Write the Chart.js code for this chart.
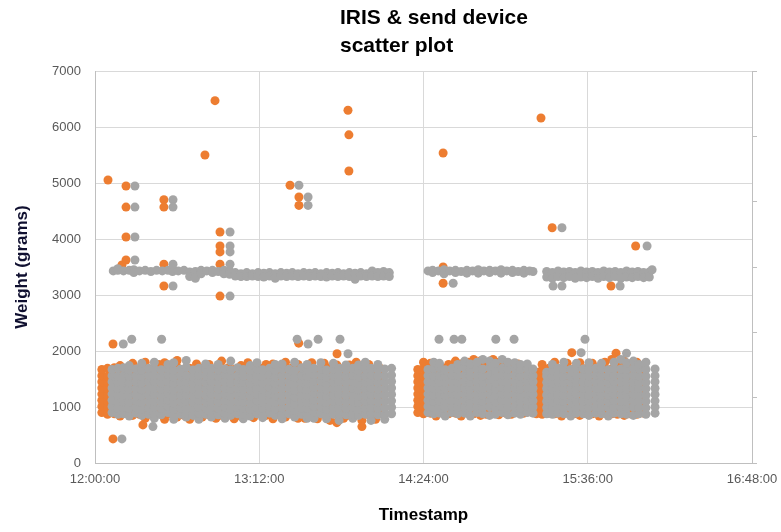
<!DOCTYPE html>
<html>
<head>
<meta charset="utf-8">
<script src="https://cdn.jsdelivr.net/npm/chart.js@4/dist/chart.umd.min.js"></script>
<style>
  html, body { margin: 0; padding: 0; background: #fff; }
  #wrap { width: 781px; height: 532px; }
</style>
</head>
<body>
<div id="wrap"><canvas id="chart" width="781" height="532"></canvas></div>
<script>
// x values are minutes after 12:00:00
var xTickLabels = ['12:00:00', '13:12:00', '14:24:00', '15:36:00', '16:48:00'];
var titleLines = ['IRIS & send device', 'scatter plot'];

// single IRIS readings (orange)
var irisTimes = [5.7, 13.6, 13.6, 13.6, 13.6, 11.8, 30.2, 30.2, 30.2, 30.2, 48.2, 52.6, 54.8, 54.8, 54.8, 54.8, 54.8,
  85.5, 89.4, 89.4, 110.9, 111.3, 111.3, 152.6, 195.5, 200.4, 237, 226.2, 152.6, 152.6, 7.9, 7.9, 89.3, 106.1,
  209, 228.4, 21, 117, 106];
var irisWeights = [5054, 4946, 4570, 4036, 3625, 3536, 4700, 4570, 3550, 3160, 5500, 6470, 4125, 3875, 3770, 3550, 2980,
  4960, 4750, 4600, 6300, 5860, 5215, 5535, 6160, 4200, 3875, 3160, 3500, 3210, 2125, 430, 2140, 1950,
  1970, 1960, 680, 650, 720];

// single send device readings (grey)
var sendTimes = [17.5, 17.5, 17.5, 17.5, 34.2, 34.2, 34.2, 34.2, 59.2, 59.2, 59.2, 59.2, 59.2, 89.4, 93.4, 93.4,
  204.7, 242, 244.2, 230.2, 200.8, 204.7, 157, 12.4, 16.1, 29.2, 88.6, 93.4, 97.8, 107.4, 110.9,
  150.8, 157.4, 160.8, 175.7, 183.7, 214.8, 213.1, 233, 11.8, 25.4];
var sendWeights = [4946, 4570, 4036, 3625, 4700, 4570, 3550, 3160, 4125, 3875, 3770, 3550, 2980, 4960, 4750, 4600,
  4200, 3875, 3450, 3160, 3160, 3160, 3210, 2125, 2210, 2210, 2210, 2125, 2210, 2210, 1950,
  2210, 2210, 2210, 2210, 2210, 2210, 1970, 1960, 430, 650];

// columns of readings in the main cluster: [iris minute, send minute, weights...]
var lowBand1 = [
  [3, 7.5, 900, 1010, 1120, 1230, 1340, 1450, 1560, 1670],
  [5.5, 10, 870, 980, 1100, 1210, 1330, 1440, 1550, 1690],
  [8.5, 12.5, 880, 990, 1095, 1215, 1325, 1445, 1565, 1700],
  [11, 15, 840, 975, 1090, 1205, 1320, 1435, 1550, 1665, 1740],
  [14, 18, 890, 1000, 1110, 1220, 1335, 1450, 1560, 1680],
  [16.5, 20.5, 850, 960, 1080, 1200, 1310, 1430, 1545, 1660, 1780],
  [19.5, 23.5, 870, 985, 1100, 1215, 1330, 1450, 1570, 1690],
  [22, 26, 800, 880, 995, 1105, 1225, 1340, 1455, 1570, 1680, 1800],
  [25, 29, 860, 975, 1090, 1200, 1315, 1430, 1545, 1665],
  [28, 32, 900, 1010, 1125, 1235, 1345, 1460, 1575, 1690, 1760],
  [30.5, 34.5, 780, 840, 960, 1075, 1195, 1310, 1425, 1540, 1655, 1790],
  [33.5, 37.5, 870, 985, 1100, 1215, 1330, 1445, 1560, 1675],
  [36, 40, 820, 880, 990, 1105, 1220, 1335, 1450, 1565, 1710, 1830],
  [39, 43, 850, 965, 1080, 1195, 1310, 1425, 1540, 1660],
  [41.5, 45.5, 780, 890, 1000, 1115, 1230, 1345, 1460, 1575, 1690],
  [44.5, 48.5, 870, 980, 1095, 1210, 1325, 1440, 1555, 1670, 1770],
  [47, 51, 820, 880, 995, 1110, 1225, 1340, 1455, 1570, 1690],
  [50, 54, 860, 975, 1090, 1205, 1320, 1435, 1550, 1665, 1760],
  [53, 57, 800, 890, 1000, 1115, 1230, 1345, 1460, 1575, 1680],
  [55.5, 59.5, 850, 965, 1080, 1200, 1315, 1430, 1545, 1660, 1820],
  [58.5, 62.5, 880, 990, 1100, 1220, 1330, 1445, 1560, 1700],
  [61, 65, 790, 870, 980, 1095, 1210, 1325, 1440, 1555, 1670],
  [64, 68, 840, 955, 1070, 1190, 1305, 1420, 1535, 1650, 1740],
  [67, 71, 880, 995, 1110, 1225, 1340, 1455, 1570, 1685, 1790],
  [69.5, 73.5, 810, 860, 975, 1090, 1205, 1320, 1435, 1550, 1665],
  [72.5, 76.5, 890, 1005, 1120, 1235, 1350, 1465, 1580, 1690],
  [75, 79, 850, 965, 1080, 1195, 1310, 1425, 1540, 1655, 1760],
  [78, 82, 790, 870, 985, 1100, 1215, 1330, 1445, 1560, 1680, 1770],
  [81, 85, 880, 990, 1105, 1220, 1335, 1450, 1565, 1675],
  [83.5, 87.5, 820, 940, 1060, 1180, 1300, 1420, 1535, 1650, 1800],
  [86.5, 90.5, 870, 985, 1100, 1215, 1330, 1445, 1560, 1700],
  [89, 93, 800, 860, 975, 1090, 1205, 1320, 1435, 1550, 1665, 1760],
  [92, 96, 800, 900, 1010, 1125, 1240, 1355, 1470, 1585, 1690],
  [95, 99, 880, 995, 1110, 1225, 1340, 1455, 1570, 1680, 1790],
  [97.5, 101.5, 790, 850, 965, 1080, 1195, 1310, 1425, 1540, 1660],
  [100.5, 104.5, 870, 985, 1100, 1215, 1330, 1445, 1560, 1675, 1780],
  [103, 107, 760, 880, 995, 1110, 1225, 1340, 1455, 1570, 1690],
  [106, 110, 860, 975, 1090, 1205, 1320, 1435, 1550, 1665, 1750],
  [109, 113, 800, 880, 995, 1110, 1225, 1340, 1455, 1570, 1690],
  [111.5, 115.5, 850, 965, 1080, 1195, 1310, 1425, 1540, 1655, 1750],
  [114.5, 118.5, 870, 985, 1100, 1215, 1330, 1445, 1560, 1680, 1800],
  [117, 121, 760, 880, 995, 1110, 1225, 1340, 1455, 1570, 1690],
  [120, 124, 860, 975, 1090, 1205, 1320, 1435, 1550, 1665, 1760],
  [123, 127, 780, 870, 985, 1100, 1215, 1330, 1445, 1560, 1680],
  [125, 130, 880, 995, 1110, 1225, 1340, 1455, 1570, 1690]
];
var lowBand2 = [
  [141.5, 146, 900, 1010, 1120, 1230, 1340, 1450, 1560, 1670],
  [144, 148.5, 880, 990, 1105, 1215, 1330, 1440, 1555, 1690, 1800],
  [147, 151, 890, 1000, 1110, 1225, 1335, 1450, 1565, 1700, 1780],
  [149.5, 153.5, 840, 985, 1095, 1210, 1325, 1440, 1550, 1665],
  [152.5, 156.5, 900, 1010, 1120, 1235, 1345, 1460, 1570, 1690],
  [155, 159, 880, 995, 1105, 1220, 1330, 1445, 1560, 1680, 1760],
  [158, 162, 890, 1000, 1115, 1225, 1340, 1450, 1565, 1700, 1820],
  [160.5, 164.5, 840, 985, 1100, 1210, 1325, 1440, 1555, 1670, 1770],
  [163.5, 167.5, 900, 1010, 1120, 1230, 1345, 1455, 1570, 1690, 1800],
  [166, 170, 880, 990, 1105, 1215, 1330, 1440, 1555, 1680, 1850],
  [169, 173, 850, 1005, 1115, 1230, 1340, 1455, 1570, 1700, 1820],
  [171.5, 175.5, 870, 985, 1095, 1210, 1320, 1435, 1550, 1665, 1780],
  [174.5, 178.5, 900, 1010, 1125, 1235, 1350, 1460, 1575, 1690, 1850],
  [177, 181, 860, 995, 1105, 1220, 1330, 1445, 1560, 1680, 1800],
  [180, 184, 890, 1000, 1115, 1225, 1340, 1450, 1565, 1690, 1790],
  [182.5, 186.5, 870, 985, 1100, 1210, 1325, 1440, 1555, 1670, 1760],
  [185.5, 189.5, 900, 1010, 1120, 1235, 1345, 1460, 1570, 1690, 1770],
  [188, 192, 890, 1000, 1110, 1225, 1335, 1450, 1560, 1680]
];
var lowBand3 = [
  [193.5, 198, 880, 990, 1100, 1215, 1330, 1440, 1555, 1620],
  [196, 200.5, 870, 985, 1095, 1210, 1320, 1435, 1550, 1660, 1760],
  [199, 203, 890, 1000, 1115, 1225, 1340, 1450, 1565, 1690],
  [201.5, 205.5, 880, 990, 1105, 1215, 1330, 1440, 1555, 1680, 1800],
  [204.5, 208.5, 840, 985, 1100, 1210, 1325, 1440, 1550, 1670],
  [207, 211, 890, 1000, 1110, 1225, 1335, 1450, 1560, 1690, 1780],
  [210, 214, 880, 995, 1105, 1220, 1330, 1445, 1560, 1680],
  [212.5, 216.5, 850, 985, 1100, 1210, 1325, 1440, 1555, 1670, 1790],
  [215.5, 219.5, 890, 1000, 1115, 1225, 1340, 1450, 1565, 1690],
  [218, 222, 880, 990, 1105, 1215, 1330, 1440, 1555, 1680, 1780],
  [221, 225, 840, 985, 1095, 1210, 1320, 1435, 1550, 1665],
  [223.5, 227.5, 890, 1000, 1110, 1225, 1335, 1450, 1560, 1690, 1800],
  [226.5, 230.5, 880, 995, 1105, 1220, 1330, 1445, 1560, 1680, 1850],
  [229, 233, 870, 985, 1100, 1210, 1325, 1440, 1555, 1670, 1790],
  [232, 236, 850, 1000, 1115, 1225, 1340, 1450, 1565, 1690, 1820],
  [234.5, 238.5, 880, 990, 1105, 1215, 1330, 1440, 1555, 1680, 1760],
  [237.5, 241.5, 870, 985, 1100, 1210, 1325, 1440, 1550, 1670, 1800],
  [240.5, 245.5, 890, 1000, 1110, 1225, 1335, 1450, 1560, 1680]
];
// send device readings around 3400 g: [send minute, weights...]
var sendHighBand = [
  [8, 3430], [10, 3440, 3470], [12.5, 3430], [15, 3440], [17, 3450, 3400],
  [19.5, 3430], [22, 3440], [24.5, 3420], [27, 3440], [29.5, 3430],
  [32, 3440], [34, 3420, 3460], [36.5, 3430], [39, 3440], [41.5, 3410, 3330],
  [44, 3420, 3300], [46.5, 3440, 3380], [49, 3430], [51.5, 3440, 3400], [54, 3420],
  [56.5, 3440, 3380], [59, 3430, 3370], [61.5, 3400, 3340], [64, 3380, 3330],
  [66.5, 3400, 3330], [69, 3380, 3340], [71.5, 3400, 3330], [74, 3390, 3320],
  [76.5, 3400, 3340], [79, 3380, 3300], [81.5, 3400, 3340], [84, 3390, 3330],
  [86.5, 3400, 3340], [89, 3380, 3330], [91.5, 3400, 3340], [94, 3390, 3330],
  [96.5, 3400, 3340], [99, 3380, 3330], [101.5, 3400, 3320], [104, 3390, 3340],
  [106.5, 3400, 3330], [109, 3380, 3340], [111.5, 3400, 3330], [114, 3390, 3280],
  [116.5, 3400, 3340], [119, 3380, 3330], [121.5, 3430, 3340], [124, 3400, 3330],
  [126.5, 3420, 3340], [129, 3400, 3330],
  [146, 3430], [148, 3440, 3400], [150.5, 3430], [153, 3450, 3380], [155.5, 3430],
  [158, 3440, 3400], [160.5, 3420], [163, 3440, 3390], [165.5, 3430], [168, 3450, 3390],
  [170.5, 3430], [173, 3440, 3400], [175.5, 3430], [178, 3450, 3390], [180.5, 3430],
  [183, 3440, 3400], [185.5, 3420], [188, 3440, 3390], [190.5, 3430], [192, 3420],
  [198, 3420, 3320], [200.5, 3400, 3300], [203, 3430, 3330], [205.5, 3410, 3310],
  [208, 3420, 3330], [210.5, 3400, 3300], [213, 3430, 3320], [215.5, 3410, 3310],
  [218, 3420, 3330], [220.5, 3400, 3300], [223, 3430, 3330], [225.5, 3410, 3310],
  [228, 3420, 3330], [230.5, 3400, 3300], [233, 3430, 3320], [235.5, 3410, 3310],
  [238, 3420, 3330], [240.5, 3400, 3310], [243, 3410, 3320]
];

var irisPoints = [];
var sendPoints = [];

function addColumns(cols) {
  cols.forEach(function (c) {
    for (var k = 2; k < c.length; k++) {
      irisPoints.push({ x: c[0], y: c[k] });
      sendPoints.push({ x: c[1], y: c[k] });
    }
  });
}

addColumns(lowBand1);
addColumns(lowBand2);
addColumns(lowBand3);
sendHighBand.forEach(function (c) {
  for (var k = 1; k < c.length; k++) sendPoints.push({ x: c[0], y: c[k] });
});
irisTimes.forEach(function (t, i) { irisPoints.push({ x: t, y: irisWeights[i] }); });
sendTimes.forEach(function (t, i) { sendPoints.push({ x: t, y: sendWeights[i] }); });

var titlePlugin = {
  id: 'leftTitle',
  afterDraw: function (chart) {
    var ctx = chart.ctx;
    ctx.save();
    ctx.font = 'bold 21px "Liberation Sans", Arial, sans-serif';
    ctx.fillStyle = '#000';
    ctx.textAlign = 'left';
    ctx.textBaseline = 'middle';
    titleLines.forEach(function (line, i) {
      ctx.fillText(line, 340, 18 + i * 28);
    });
    ctx.restore();
  }
};

Chart.defaults.font.family = '"Liberation Sans", Arial, sans-serif';

new Chart(document.getElementById('chart'), {
  type: 'scatter',
  data: {
    datasets: [
      {
        label: 'send device',
        data: sendPoints,
        backgroundColor: '#a5a5a5',
        pointRadius: 4.5,
        pointBorderWidth: 0
      },
      {
        label: 'IRIS',
        data: irisPoints,
        backgroundColor: '#ed7d31',
        pointRadius: 4.5,
        pointBorderWidth: 0
      }
    ]
  },
  options: {
    responsive: false,
    animation: false,
    layout: { padding: { top: 71, left: 0, right: 0, bottom: 0 } },
    plugins: {
      legend: { display: false },
      tooltip: { enabled: false }
    },
    scales: {
      x: {
        type: 'linear',
        min: 0,
        max: 288,
        afterFit: function (s) {
          s.height = 69;
          s.paddingLeft = 0;
          s.paddingRight = 0;
        },
        ticks: {
          stepSize: 72,
          padding: 9,
          color: '#595959',
          font: { size: 13 },
          maxRotation: 0,
          callback: function (v, i) { return xTickLabels[i]; }
        },
        grid: { color: '#d9d9d9', drawTicks: false },
        border: { color: '#bfbfbf' },
        title: {
          display: true,
          text: 'Timestamp',
          color: '#000',
          font: { size: 17, weight: 'bold' },
          padding: { top: 0, bottom: 6 }
        }
      },
      y: {
        min: 0,
        max: 7000,
        afterFit: function (s) { s.width = 95; },
        ticks: {
          stepSize: 1000,
          padding: 14,
          color: '#595959',
          font: { size: 13 },
          callback: function (v) { return String(v); }
        },
        grid: { color: '#d9d9d9', drawTicks: false },
        border: { color: '#bfbfbf' },
        title: {
          display: true,
          text: 'Weight (grams)',
          color: '#101030',
          font: { size: 17, weight: 'bold' },
          padding: { top: 12, bottom: 0 }
        }
      },
      y2: {
        position: 'right',
        min: 0,
        max: 6,
        afterFit: function (s) { s.width = 29; },
        ticks: { stepSize: 1, display: false },
        grid: { drawOnChartArea: false, drawTicks: true, tickLength: 5, color: '#bfbfbf' },
        border: { color: '#bfbfbf' }
      }
    }
  },
  plugins: [titlePlugin]
});
</script>
</body>
</html>
